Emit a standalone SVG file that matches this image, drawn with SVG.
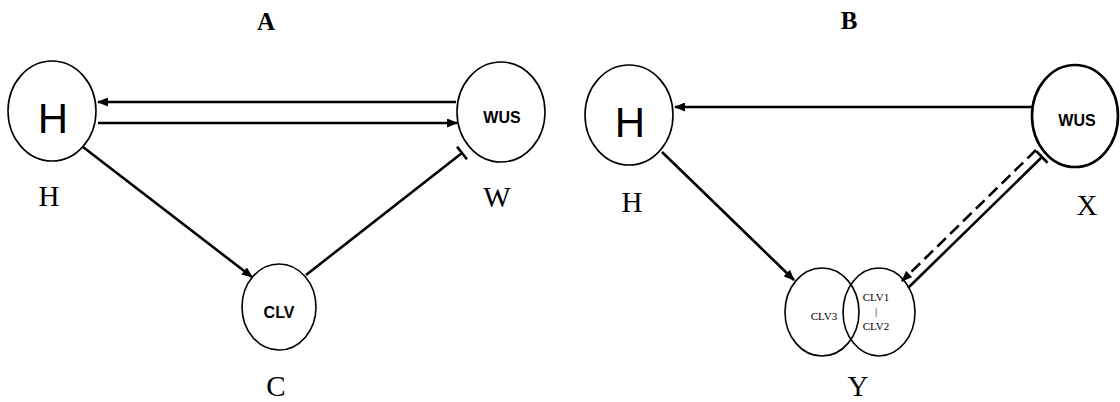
<svg xmlns="http://www.w3.org/2000/svg" width="1120" height="402" viewBox="0 0 1120 402">
<style>
text{fill:#000}
.node{fill:#fff;stroke:#000;stroke-width:1.6}
.thick{stroke-width:2.6}
.edge{fill:none;stroke:#000;stroke-width:2.6}
.dash{stroke-dasharray:12 6}
.big{font-family:"Liberation Sans",Arial,sans-serif;font-size:42px;text-anchor:middle}
.sm{font-family:"Liberation Sans",Arial,sans-serif;font-size:16px;font-weight:bold;text-anchor:middle}
.tiny{font-family:"Liberation Serif","Times New Roman",serif;font-size:11px;text-anchor:middle}
.lab{font-family:"Liberation Serif","Times New Roman",serif;font-size:29px;text-anchor:middle}
.title{font-family:"Liberation Serif","Times New Roman",serif;font-size:25px;font-weight:bold;text-anchor:middle}
</style>
<defs>
<marker id="arr" markerUnits="userSpaceOnUse" markerWidth="11" markerHeight="9" refX="10" refY="4.5" orient="auto">
<path d="M0,0 L11,4.5 L0,9 z" fill="#000"/>
</marker>
<marker id="bar" markerUnits="userSpaceOnUse" markerWidth="4" markerHeight="16" refX="2" refY="8" orient="auto">
<path d="M2,0 L2,16" stroke="#000" stroke-width="2.6"/>
</marker>
</defs>
<rect width="1120" height="402" fill="#fff"/>
<text class="title" x="266" y="30">A</text>
<text class="title" x="849" y="29">B</text>
<g id="connectors">
<line class="edge" x1="456" y1="102" x2="98" y2="102" marker-end="url(#arr)"/>
<line class="edge" x1="98" y1="123" x2="457" y2="123" marker-end="url(#arr)"/>
<line class="edge" x1="83" y1="147" x2="252" y2="277" marker-end="url(#arr)"/>
<line class="edge" x1="306" y1="275" x2="462" y2="153" marker-end="url(#bar)"/>
<line class="edge" x1="1033" y1="107" x2="675" y2="107" marker-end="url(#arr)"/>
<line class="edge" x1="662" y1="152" x2="794" y2="280" marker-end="url(#arr)"/>
<line class="edge" x1="908" y1="288" x2="1042" y2="157" marker-end="url(#bar)"/>
<line class="edge dash" x1="1036" y1="150" x2="902" y2="281" marker-end="url(#arr)"/>
</g>
<g id="nodeA_H">
<ellipse class="node" cx="52" cy="111" rx="44" ry="50"/>
<text class="big" x="53" y="133">H</text>
<text class="lab" x="49" y="206">H</text>
</g>
<g id="nodeA_WUS">
<ellipse class="node" cx="501" cy="112" rx="44" ry="50"/>
<text class="sm" x="502" y="123">WUS</text>
<text class="lab" x="497" y="207">W</text>
</g>
<g id="nodeA_CLV">
<ellipse class="node" cx="279" cy="307" rx="37" ry="43"/>
<text class="sm" x="279" y="318">CLV</text>
<text class="lab" x="276" y="396">C</text>
</g>
<g id="nodeB_H">
<ellipse class="node" cx="629" cy="115" rx="44" ry="50"/>
<text class="big" x="630" y="137">H</text>
<text class="lab" x="632" y="212">H</text>
</g>
<g id="nodeB_WUS">
<ellipse class="node thick" cx="1075" cy="116" rx="43" ry="51"/>
<text class="sm" x="1077" y="126">WUS</text>
<text class="lab" x="1087" y="215">X</text>
</g>
<g id="nodeB_CLV">
<ellipse class="node" cx="822" cy="312" rx="37" ry="44"/>
<ellipse cx="879" cy="312" rx="36" ry="44" fill="none" stroke="#000" stroke-width="1.6"/>
<text class="tiny" x="824" y="320">CLV3</text>
<text class="tiny" x="876" y="301">CLV1</text>
<text class="tiny" x="876" y="315">|</text>
<text class="tiny" x="876" y="330">CLV2</text>
<text class="lab" x="858" y="396">Y</text>
</g>
</svg>
